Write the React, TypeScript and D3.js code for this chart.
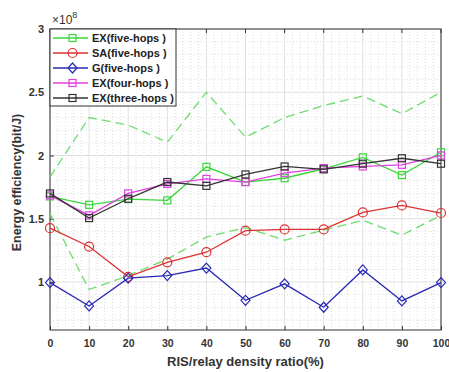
import * as d3 from "d3";
import React, { useRef, useEffect } from "react";

const xs = [0, 10, 20, 30, 40, 50, 60, 70, 80, 90, 100];
const exFive = [1.676, 1.61, 1.655, 1.645, 1.91, 1.79, 1.82, 1.895, 1.985, 1.845, 2.025];
const saFive = [1.425, 1.28, 1.04, 1.155, 1.235, 1.405, 1.415, 1.415, 1.55, 1.605, 1.545];
const gFive = [0.995, 0.81, 1.03, 1.05, 1.11, 0.855, 0.985, 0.8, 1.095, 0.85, 0.995];
const exFour = [1.684, 1.526, 1.7, 1.775, 1.815, 1.79, 1.86, 1.9, 1.913, 1.926, 2.0];
const exThree = [1.7, 1.505, 1.658, 1.79, 1.76, 1.85, 1.913, 1.89, 1.935, 1.978, 1.935];
const exFiveUpper = [1.83, 2.3, 2.24, 2.105, 2.5, 2.145, 2.3, 2.395, 2.47, 2.33, 2.5];
const exFiveLower = [1.54, 0.94, 1.05, 1.18, 1.355, 1.43, 1.33, 1.41, 1.487, 1.37, 1.526];

const xTicks = [0, 10, 20, 30, 40, 50, 60, 70, 80, 90, 100];
const yTicks = [1, 1.5, 2, 2.5, 3];

const series = [
    { name: "EX(five-hops )", values: exFive, color: "#3ad63a", marker: "square" },
    { name: "SA(five-hops )", values: saFive, color: "#dd3232", marker: "circle" },
    { name: "G(five-hops )", values: gFive, color: "#2a2ab4", marker: "diamond" },
    { name: "EX(four-hops )", values: exFour, color: "#e040e0", marker: "square" },
    { name: "EX(three-hops )", values: exThree, color: "#333333", marker: "square" },
];

function App() {
    const ref = useRef(null);

    const width = 449;
    const height = 372;
    const margin = { top: 29, right: 8, bottom: 42, left: 50 };
    const chartWidth = width - margin.left - margin.right;
    const chartHeight = height - margin.top - margin.bottom;

    useEffect(() => {
        const svg = d3.select(ref.current);
        svg.selectAll("*").remove();

        const xScale = d3.scaleLinear().domain([0, 100]).range([0, chartWidth]);
        const yScale = d3.scaleLinear().domain([0.62, 3]).range([chartHeight, 0]);

        const chart = svg
            .append("g")
            .attr("transform", `translate(${margin.left}, ${margin.top})`);

        chart
            .append("rect")
            .attr("width", chartWidth)
            .attr("height", chartHeight)
            .attr("fill", "white");

        // minor grid
        const xMinor = d3.range(0, 100.001, 2).filter((v) => v % 10 !== 0);
        const yMinor = d3.range(0.7, 3.001, 0.1).filter((v) => Math.abs(v * 2 - Math.round(v * 2)) > 0.01);
        chart
            .selectAll(".xminor")
            .data(xMinor)
            .enter()
            .append("line")
            .attr("x1", (d) => xScale(d))
            .attr("x2", (d) => xScale(d))
            .attr("y1", 0)
            .attr("y2", chartHeight)
            .attr("stroke", "#cfcfcf")
            .attr("stroke-width", 0.7)
            .attr("stroke-dasharray", "1,2");
        chart
            .selectAll(".yminor")
            .data(yMinor)
            .enter()
            .append("line")
            .attr("x1", 0)
            .attr("x2", chartWidth)
            .attr("y1", (d) => yScale(d))
            .attr("y2", (d) => yScale(d))
            .attr("stroke", "#cfcfcf")
            .attr("stroke-width", 0.7)
            .attr("stroke-dasharray", "1,2");

        // major grid
        chart
            .selectAll(".xgrid")
            .data(xTicks)
            .enter()
            .append("line")
            .attr("x1", (d) => xScale(d))
            .attr("x2", (d) => xScale(d))
            .attr("y1", 0)
            .attr("y2", chartHeight)
            .attr("stroke", "#e0e0e0")
            .attr("stroke-width", 1);
        chart
            .selectAll(".ygrid")
            .data(yTicks)
            .enter()
            .append("line")
            .attr("x1", 0)
            .attr("x2", chartWidth)
            .attr("y1", (d) => yScale(d))
            .attr("y2", (d) => yScale(d))
            .attr("stroke", "#e0e0e0")
            .attr("stroke-width", 1);

        // axes
        const xAxis = d3.axisBottom(xScale).tickValues(xTicks).tickSize(-4).tickPadding(10);
        const yAxis = d3.axisLeft(yScale).tickValues(yTicks).tickSize(-4).tickPadding(6)
            .tickFormat((d) => String(d));

        const gx = chart.append("g").attr("transform", `translate(0, ${chartHeight})`).call(xAxis);
        const gy = chart.append("g").call(yAxis);
        [gx, gy].forEach((g) => {
            g.select(".domain").remove();
            g.selectAll("line").attr("stroke", "#333");
            g.selectAll("text")
                .attr("fill", "#333")
                .style("font-family", "Liberation Sans, Arial, sans-serif")
                .style("font-size", "11px")
                .style("font-weight", "bold");
        });
        gx.selectAll("text").style("font-size", "10.5px");
        chart
            .append("g")
            .selectAll("line")
            .data(xTicks)
            .enter()
            .append("line")
            .attr("x1", (d) => xScale(d))
            .attr("x2", (d) => xScale(d))
            .attr("y1", 0)
            .attr("y2", 4)
            .attr("stroke", "#333");

        chart
            .append("rect")
            .attr("width", chartWidth)
            .attr("height", chartHeight)
            .attr("fill", "none")
            .attr("stroke", "#333")
            .attr("stroke-width", 1);

        const line = d3
            .line()
            .x((d, i) => xScale(xs[i]))
            .y((d) => yScale(d));

        // dashed bounds
        [exFiveUpper, exFiveLower].forEach((vals) => {
            chart
                .append("path")
                .datum(vals)
                .attr("d", line)
                .attr("fill", "none")
                .attr("stroke", "#6fdc6f")
                .attr("stroke-width", 1.3)
                .attr("stroke-dasharray", "9,5");
        });

        const drawMarker = (g, type, cx, cy, color) => {
            if (type === "square") {
                g.append("rect")
                    .attr("x", cx - 3.5)
                    .attr("y", cy - 3.5)
                    .attr("width", 7)
                    .attr("height", 7)
                    .attr("fill", "none")
                    .attr("stroke", color)
                    .attr("stroke-width", 1.2);
            } else if (type === "circle") {
                g.append("circle")
                    .attr("cx", cx)
                    .attr("cy", cy)
                    .attr("r", 4.5)
                    .attr("fill", "none")
                    .attr("stroke", color)
                    .attr("stroke-width", 1.2);
            } else {
                g.append("path")
                    .attr("d", `M${cx},${cy - 5}L${cx + 4.5},${cy}L${cx},${cy + 5}L${cx - 4.5},${cy}Z`)
                    .attr("fill", "none")
                    .attr("stroke", color)
                    .attr("stroke-width", 1.2);
            }
        };

        [1, 2, 0, 3, 4].forEach((k) => {
            const s = series[k];
            const g = chart.append("g");
            g.append("path")
                .datum(s.values)
                .attr("d", line)
                .attr("fill", "none")
                .attr("stroke", s.color)
                .attr("stroke-width", 1.3);
            s.values.forEach((v, i) => drawMarker(g, s.marker, xScale(xs[i]), yScale(v), s.color));
        });

        // legend
        const legend = chart.append("g");
        legend
            .append("rect")
            .attr("x", 0)
            .attr("y", 0)
            .attr("width", 126)
            .attr("height", 77)
            .attr("fill", "white")
            .attr("stroke", "#333")
            .attr("stroke-width", 1);
        series.forEach((s, i) => {
            const ly = 9 + i * 15;
            legend
                .append("line")
                .attr("x1", 3)
                .attr("x2", 38)
                .attr("y1", ly)
                .attr("y2", ly)
                .attr("stroke", s.color)
                .attr("stroke-width", 1.3);
            drawMarker(legend, s.marker, 22.5, ly, s.color);
            legend
                .append("text")
                .attr("x", 42)
                .attr("y", ly + 4)
                .text(s.name)
                .attr("fill", "#222")
                .style("font-family", "Liberation Sans, Arial, sans-serif")
                .style("font-size", "11px")
                .style("font-weight", "bold");
        });

        // exponent
        const expo = svg
            .append("text")
            .attr("x", margin.left + 2)
            .attr("y", margin.top - 5)
            .attr("fill", "#333")
            .style("font-family", "Liberation Sans, Arial, sans-serif")
            .style("font-size", "12px");
        expo.append("tspan").text("×10");
        expo.append("tspan").attr("dy", -6).style("font-size", "9px").text("8");

        svg.append("text")
            .attr("x", margin.left + chartWidth / 2)
            .attr("y", 366)
            .attr("text-anchor", "middle")
            .attr("fill", "#333")
            .style("font-family", "Liberation Sans, Arial, sans-serif")
            .style("font-size", "13px")
            .style("font-weight", "bold")
            .text("RIS/relay density ratio(%)");

        svg.append("text")
            .attr("transform", `translate(21, ${margin.top + chartHeight / 2 + 3}) rotate(-90)`)
            .attr("text-anchor", "middle")
            .attr("fill", "#333")
            .style("font-family", "Liberation Sans, Arial, sans-serif")
            .style("font-size", "12.5px")
            .style("font-weight", "bold")
            .text("Energy efficiency(bit/J)");
    }, []);

    return (
        <svg
            ref={ref}
            width={width}
            height={height}
            style={{ position: "absolute", left: 0, top: 0, background: "white" }}
        ></svg>
    );
}

export default App;
